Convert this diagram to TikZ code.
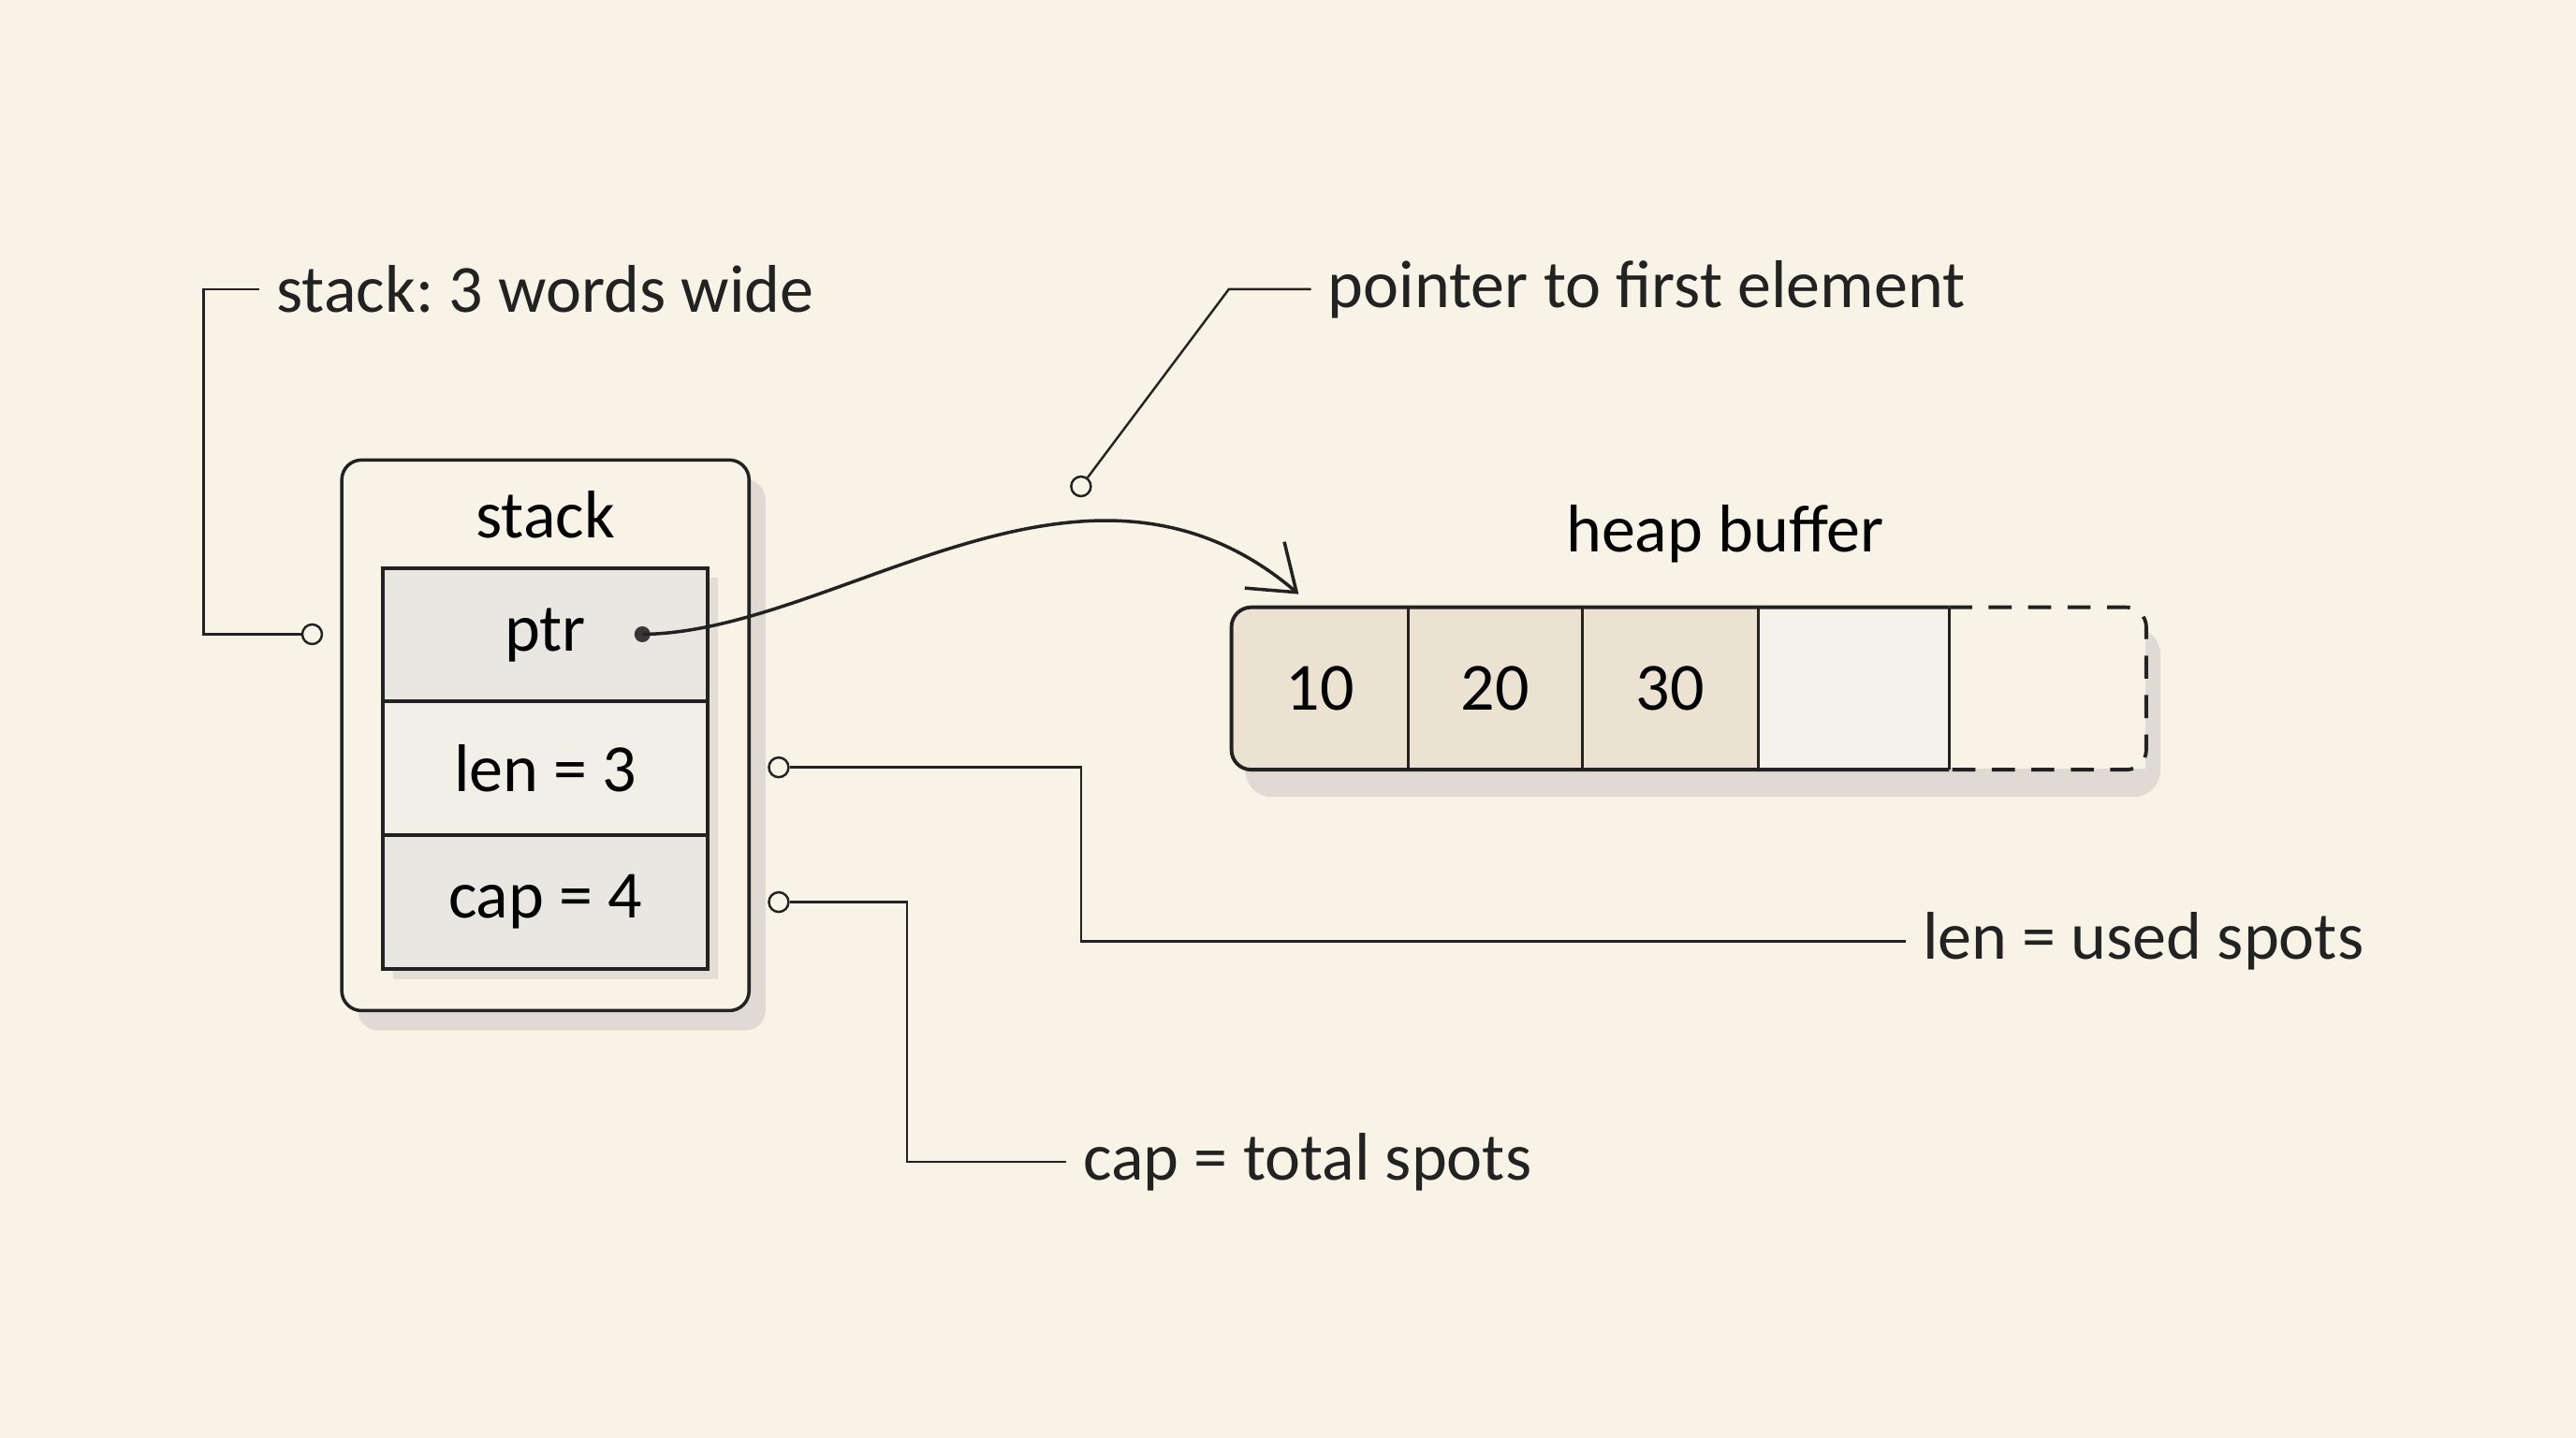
\documentclass[tikz,border=0pt]{standalone}
\usepackage{fontspec}
\setmainfont{Carlito}
\usepackage{tikz}
\usetikzlibrary{arrows.meta,positioning,calc,shadows}
\definecolor{paper}{HTML}{F8F3E7}
\definecolor{ink}{HTML}{222222}
\definecolor{rowgray}{HTML}{E9E7E2}
\definecolor{rowlight}{HTML}{F2EFE8}
\definecolor{warmbg}{HTML}{EBE2D2}
\definecolor{celllight}{HTML}{F5F2EB}
\definecolor{shadowc}{HTML}{D9D6D0}
\newcommand\hand{\fontsize{20.5}{24}\selectfont}
\frenchspacing
\tikzset{
  stackframe/.style={draw=ink,fill=paper,line width=1pt,rounded corners=6pt,
                     minimum width=4.35cm,minimum height=5.88cm,
                     drop shadow={shadow xshift=5pt,shadow yshift=-6pt,fill=shadowc,opacity=.8}},
  stackrow/.style={draw=ink,line width=1pt,minimum width=3.47cm,minimum height=1.43cm,
                   inner sep=0pt,font=\hand,
                   drop shadow={shadow xshift=3pt,shadow yshift=-3pt,fill=shadowc,opacity=.7}},
  heapcell/.style={minimum height=1.72cm,inner sep=0pt,font=\hand},
  callout/.style={anchor=west,inner sep=5pt,font=\hand,text=ink},
  pin/.style={draw=ink,fill=paper,circle,line width=0.7pt,minimum size=0.21cm,inner sep=0pt},
  ptrdot/.style={fill=ink!90,circle,minimum size=0.17cm,inner sep=0pt},
  lead/.style={draw=ink,line width=0.7pt},
  box/.style={draw=ink,line width=1.1pt}
}

\begin{document}
\begin{tikzpicture}[x=0.01755cm,y=-0.01755cm]
      \useasboundingbox (0,0) rectangle (1568,875);
      \fill[paper] (0,0) rectangle (1568,875);
      % stack side
      \node[stackframe] (stk) at (332,447.5) {};
      \node[font=\hand] (stklbl) at (332,313) {stack};
      \foreach \name/\txt/\y/\col in {ptr/ptr/386.5/rowgray,len/{len = 3}/467.5/rowlight,cap/{cap = 4}/549/rowgray} {
        \node[stackrow,fill=\col] (\name) at (332,\y) {\txt};
      }
      \node[ptrdot] (pd) at (391,386) {};
      % heap side
      \fill[shadowc,opacity=.8,rounded corners=8pt] (758,382) rectangle (1315,485);
      \node[font=\hand] (heaplbl) at (1050,325) {heap buffer};
      \foreach \i/\x/\w/\v in {1/803.5/1.878/10,2/910/1.86/20,3/1016.5/1.878/30} {
        \node[heapcell,minimum width=\w cm] (c\i) at (\x,419) {\v};
      }
      \node[heapcell,minimum width=2.036cm,fill=celllight] (c4) at (1128,419) {};
      \node[heapcell,minimum width=2.106cm,fill=paper] (c5) at (1246,419) {};
      \fill[warmbg,rounded corners=6pt] (c1.north east) -- (c1.north west) -- (c1.south west) -- (c1.south east);
      \fill[warmbg] (c2.north west) rectangle (c3.south east);
      \node[heapcell,font=\hand] at (c1) {10};
      \node[heapcell,font=\hand] at (c2) {20};
      \node[heapcell,font=\hand] at (c3) {30};
      \draw[box,rounded corners=6pt] (c4.north east) -- (c1.north west) -- (c1.south west) -- (c4.south east);
      \foreach \i in {1,...,4} {
        \draw[box,line width=0.8pt] (c\i.north east) -- (c\i.south east);
      }
      \draw[box,dashed,dash pattern=on 7pt off 5pt,rounded corners=6pt] (c4.north east) -- (c5.north east) -- (c5.south east) -- (c4.south east);
      \draw[lead,line width=1pt,-{Straight Barb[length=4.5mm,width=6.5mm]}] (pd.center) .. controls (510,385) and (660,250) .. ($(c1.north)+(-13,-8)$);
      % callouts
      \node[callout] (t1) at (158,176) {stack: 3 words wide};
      \node[pin] (sp) at (190,386) {};
      \coordinate (k1) at (124,176);
      \draw[lead] (sp.west) -| (k1) -- (t1.west);
      \node[callout] (t2) at (798,176) {pointer to first element};
      \node[pin] (pp) at (658,296) {};
      \coordinate (k2) at (748,176);
      \draw[lead] (pp) -- (k2) -- (t2.west);
      \node[callout] (t3) at (1160,573) {len = used spots};
      \node[pin] (lp) at (474,467) {};
      \coordinate (k3) at (658,573);
      \draw[lead] (lp.east) -| (k3) -- (t3.west);
      \node[callout] (t4) at (649,707) {cap = total spots};
      \node[pin] (cp) at (474,549) {};
      \coordinate (k4) at (552,707);
      \draw[lead] (cp.east) -| (k4) -- (t4.west);
    \end{tikzpicture}
\end{document}
